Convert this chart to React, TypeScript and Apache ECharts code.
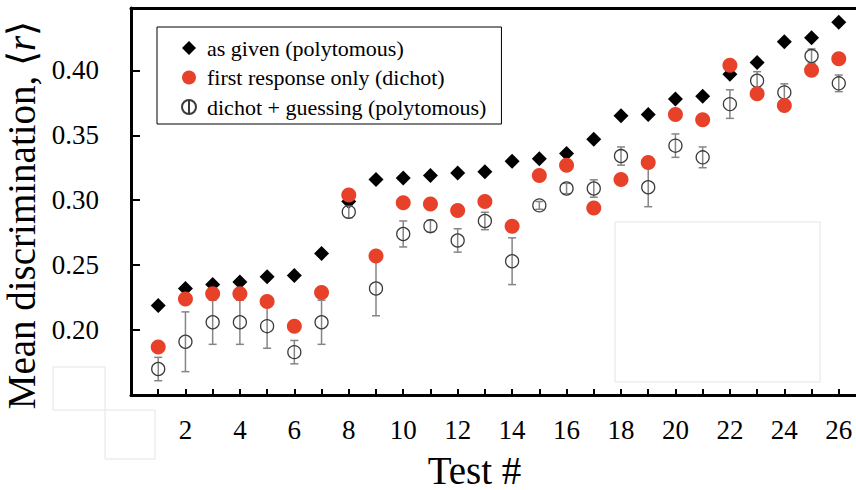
import React, { useEffect, useRef } from "react";
import * as echarts from "echarts";

const tests = [1, 2, 3, 4, 5, 6, 7, 8, 9, 10, 11, 12, 13, 14, 15, 16, 17, 18, 19, 20, 21, 22, 23, 24, 25, 26];

const asGiven = [0.219, 0.232, 0.235, 0.237, 0.241, 0.242, 0.259, 0.299, 0.316, 0.317, 0.319, 0.321, 0.322,
  0.330, 0.332, 0.336, 0.347, 0.365, 0.366, 0.378, 0.380, 0.397, 0.406, 0.422, 0.425, 0.437];

const firstResponse = [0.187, 0.224, 0.228, 0.228, 0.222, 0.203, 0.229, 0.304, 0.257, 0.298, 0.297, 0.292, 0.299,
  0.280, 0.319, 0.327, 0.294, 0.316, 0.329, 0.366, 0.362, 0.404, 0.382, 0.373, 0.400, 0.409];

const guessing = [0.170, 0.191, 0.206, 0.206, 0.203, 0.183, 0.206, 0.291, 0.232, 0.274, 0.280, 0.269, 0.284,
  0.253, 0.296, 0.309, 0.309, 0.334, 0.310, 0.342, 0.333, 0.374, 0.392, 0.383, 0.411, 0.390];

const guessingErr = [0.009, 0.023, 0.017, 0.017, 0.017, 0.009, 0.017, 0.0045, 0.021, 0.010, 0.0045, 0.009, 0.0067,
  0.018, 0.003, 0.004, 0.0067, 0.007, 0.015, 0.009, 0.008, 0.011, 0.007, 0.0066, 0.0055, 0.0064];

const seriesNames = ["as given (polytomous)", "first response only (dichot)", "dichot + guessing (polytomous)"];
const xTitle = "Test #";
const yTitle = "{a|Mean discrimination, ⟨}{i|r}{a|⟩}";

export default function App() {
  const ref = useRef<HTMLDivElement>(null);

  useEffect(() => {
    document.body.style.margin = "0";
    const chart = echarts.init(ref.current!, null, { renderer: "svg" });
    const serif = "Liberation Serif";
    const red = "#e8412a";

    const diamondData = tests.map((t, i) => [t, asGiven[i]]);
    const redData = tests.map((t, i) => [t, firstResponse[i]]);
    const openData = tests.map((t, i) => [t, guessing[i]]);
    const errData = tests.map((t, i) => [t, guessing[i] - guessingErr[i], guessing[i] + guessingErr[i]]);

    chart.setOption({
      animation: false,
      backgroundColor: "#fff",
      grid: { left: 131, right: -10, top: 8, bottom: 95, containLabel: false, outerBoundsMode: "none" },
      legend: {
        orient: "vertical",
        left: 157,
        top: 27,
        padding: [10, 15, 6, 24],
        itemWidth: 26,
        itemHeight: 14,
        itemGap: 7.5,
        borderColor: "#000",
        borderWidth: 1,
        selectedMode: false,
        textStyle: { fontFamily: serif, fontSize: 22, lineHeight: 22, color: "#000" },
        data: [
          { name: seriesNames[0], icon: "path://M7,0 L14,7 L7,14 L0,7 Z" },
          { name: seriesNames[1], icon: "circle" },
          { name: seriesNames[2], icon: "path://M5,0 L5,10 M0,5 A5,5 0 1,1 10,5 A5,5 0 1,1 0,5 Z" },
        ],
      },
      xAxis: [
        {
          type: "value",
          min: 0,
          max: 27,
          interval: 1,
          position: "bottom",
          axisLine: { show: true, onZero: false, lineStyle: { color: "#000", width: 3 } },
          axisTick: { show: true, inside: true, length: 6, lineStyle: { color: "#000", width: 2 } },
          axisLabel: {
            margin: 21,
            fontFamily: serif,
            fontSize: 27,
            color: "#000",
            formatter: (v: number) => (v > 0 && v % 2 === 0 ? String(v) : ""),
          },
          splitLine: { show: false },
          name: xTitle,
          nameLocation: "middle",
          nameGap: 57,
          nameTextStyle: { fontFamily: serif, fontSize: 39, lineHeight: 36, color: "#000", padding: [0, 48, 0, 0] },
        },
        {
          type: "value",
          min: 0,
          max: 27,
          position: "top",
          axisLine: { show: true, onZero: false, lineStyle: { color: "#000", width: 3 } },
          axisTick: { show: false },
          axisLabel: { show: false },
          splitLine: { show: false },
        },
      ],
      yAxis: {
        type: "value",
        min: 0.15,
        max: 0.448,
        interval: 0.05,
        axisLine: { show: true, onZero: false, lineStyle: { color: "#000", width: 3 } },
        axisTick: { show: true, inside: true, length: 9, lineStyle: { color: "#000", width: 2 } },
        axisLabel: {
          margin: 32,
          fontFamily: serif,
          fontSize: 27,
          color: "#000",
          formatter: (v: number) => (v < 0.17 || v > 0.43 ? "" : v.toFixed(2)),
        },
        splitLine: { show: false },
        name: yTitle,
        nameLocation: "middle",
        nameRotate: 90,
        nameGap: 84,
        nameTextStyle: {
          fontFamily: serif,
          fontSize: 39,
          color: "#000",
          padding: [0, 27, 0, 0],
          rich: {
            a: { fontFamily: serif, fontSize: 39, color: "#000" },
            i: { fontFamily: serif, fontSize: 39, color: "#000", fontStyle: "italic" },
          },
        },
      },
      graphic: [
        { type: "rect", z: -1, shape: { x: 615, y: 222, width: 205, height: 160 }, style: { fill: "none", stroke: "#e4e4e4", lineWidth: 1 } },
        { type: "rect", z: -1, shape: { x: 53, y: 367, width: 52, height: 43 }, style: { fill: "none", stroke: "#e4e4e4", lineWidth: 1 } },
        { type: "rect", z: -1, shape: { x: 105, y: 410, width: 50, height: 49 }, style: { fill: "none", stroke: "#e4e4e4", lineWidth: 1 } },
      ],
      series: [
        {
          name: seriesNames[0],
          type: "scatter",
          data: diamondData,
          symbol: "diamond",
          symbolSize: 15,
          itemStyle: { color: "#000", opacity: 1 },
          z: 2,
        },
        {
          name: "error",
          type: "custom",
          data: errData,
          encode: { x: 0, y: [1, 2] },
          z: 3,
          renderItem: (params: any, api: any) => {
            const x = api.value(0);
            const lo = api.coord([x, api.value(1)]);
            const hi = api.coord([x, api.value(2)]);
            const cap = 4;
            const style = { stroke: "#858585", lineWidth: 1.5 };
            return {
              type: "group",
              children: [
                { type: "line", shape: { x1: lo[0], y1: lo[1], x2: hi[0], y2: hi[1] }, style },
                { type: "line", shape: { x1: lo[0] - cap, y1: lo[1], x2: lo[0] + cap, y2: lo[1] }, style },
                { type: "line", shape: { x1: hi[0] - cap, y1: hi[1], x2: hi[0] + cap, y2: hi[1] }, style },
              ],
            };
          },
        },
        {
          name: seriesNames[2],
          type: "scatter",
          data: openData,
          symbol: "circle",
          symbolSize: 13,
          itemStyle: { color: "rgba(0,0,0,0)", borderColor: "#3a3a3a", borderWidth: 1.3, opacity: 1 },
          z: 4,
        },
        {
          name: seriesNames[1],
          type: "scatter",
          data: redData,
          symbol: "circle",
          symbolSize: 15,
          itemStyle: { color: red, opacity: 1 },
          z: 5,
        },
      ],
    });

    return () => chart.dispose();
  }, []);

  return (
    <div
      ref={ref}
      style={{ position: "fixed", left: 0, top: 0, width: 856, height: 490, background: "#fff" }}
    />
  );
}
